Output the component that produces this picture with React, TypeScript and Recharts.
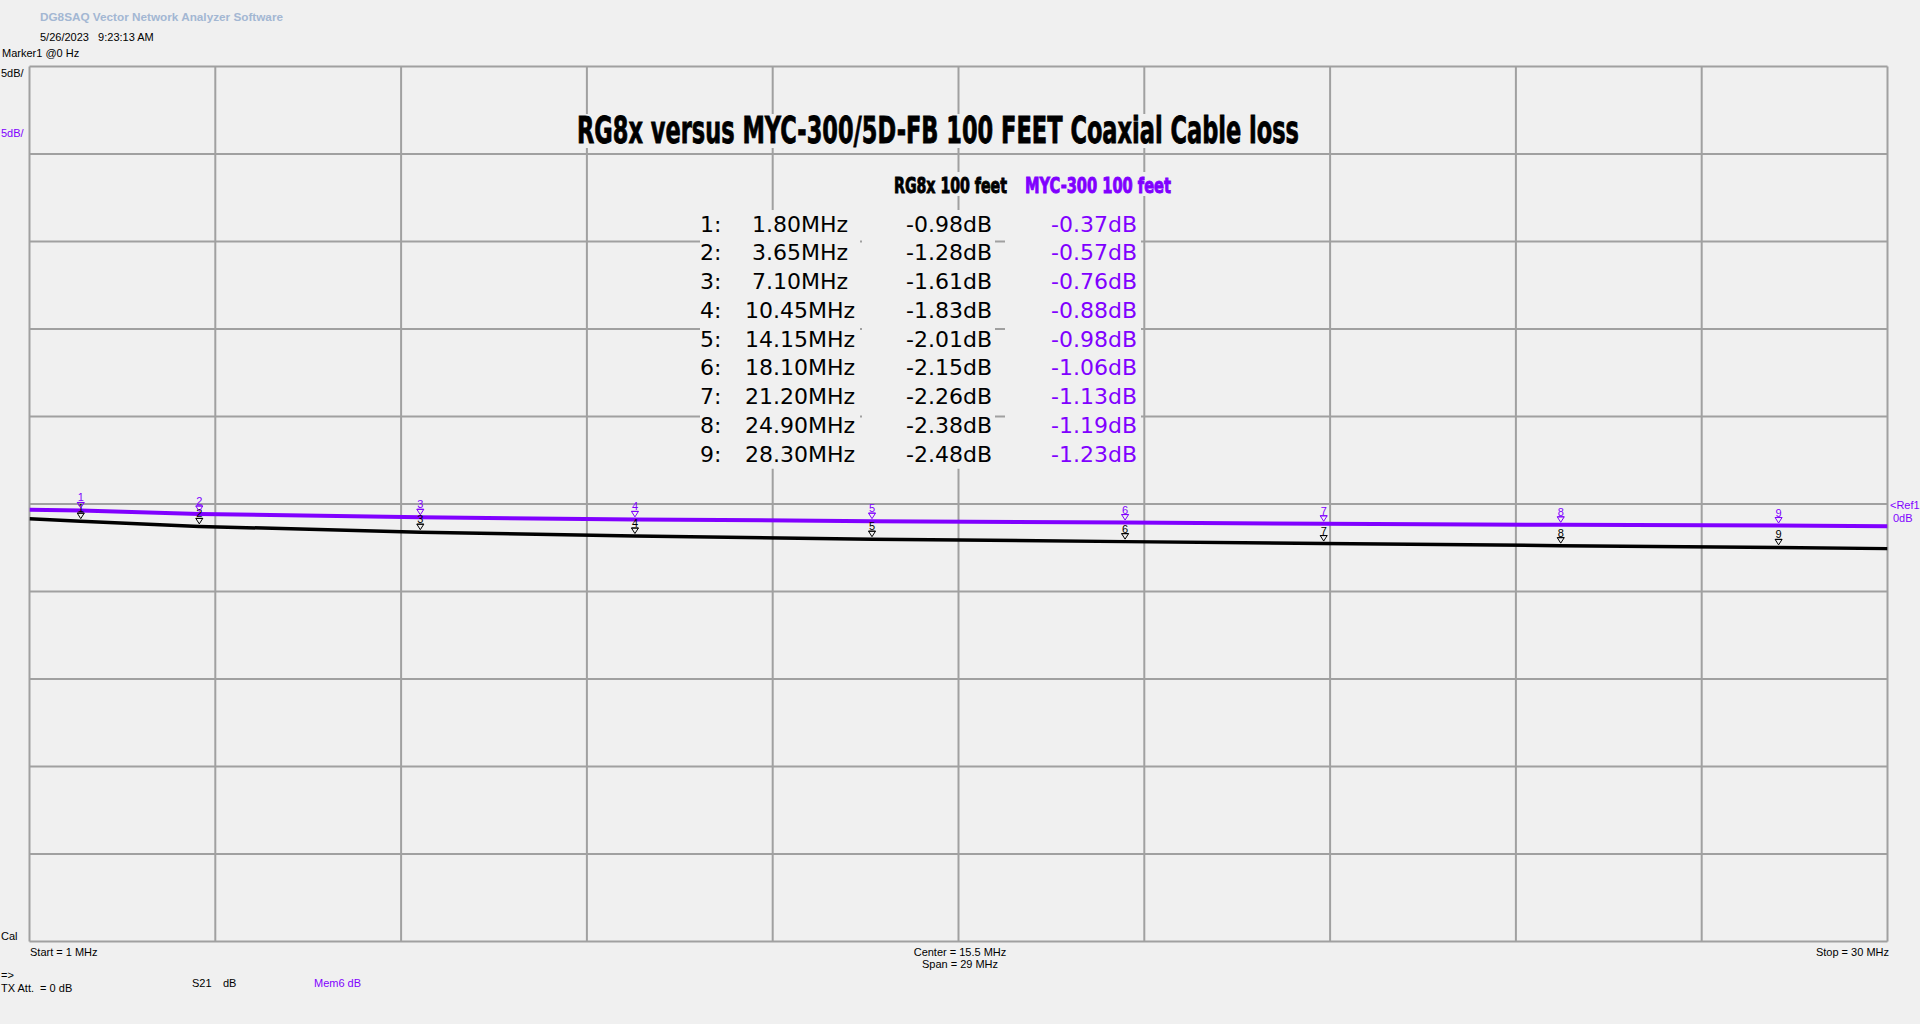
import React from 'react';
import { ComposedChart, Line, XAxis, YAxis, ReferenceLine } from 'recharts';

// ---- data ----
const FREQ_MHZ = [1, 1.8, 3.65, 7.1, 10.45, 14.15, 18.1, 21.2, 24.9, 28.3, 30];
const RG8X_DB = [-0.84, -0.98, -1.28, -1.61, -1.83, -2.01, -2.15, -2.26, -2.38, -2.48, -2.55];
const MYC_DB = [-0.33, -0.37, -0.57, -0.76, -0.88, -0.98, -1.06, -1.13, -1.19, -1.23, -1.27];
const MARKER_NO: (number | null)[] = [null, 1, 2, 3, 4, 5, 6, 7, 8, 9, null];

const FREQ_GRID = [1, 3.9, 6.8, 9.7, 12.6, 15.5, 18.4, 21.3, 24.2, 27.1, 30];
const DB_GRID = [-25, -20, -15, -10, -5, 0, 5, 10, 15, 20, 25];

const TITLE = 'RG8x versus MYC-300/5D-FB 100 FEET Coaxial Cable loss';
const SERIES_A = 'RG8x 100 feet';
const SERIES_B = 'MYC-300 100 feet';

const PURPLE = '#8000ff';
const GRID = '#a0a0a0';
const BG = '#f0f0f0';
const UI_FONT = "'Liberation Sans', Arial, sans-serif";
const TABLE_FONT = "'DejaVu Sans', Verdana, sans-serif";
const BOLD_FONT = "'DejaVu Sans Condensed', 'Liberation Sans Narrow', 'DejaVu Sans', sans-serif";

const data = FREQ_MHZ.map((f, i) => ({
  f,
  rg8x: RG8X_DB[i],
  myc: MYC_DB[i],
  marker: MARKER_NO[i],
}));

const markerRows = data.filter((d) => d.marker !== null);

const makeDot = (color: string) => (props: any) => {
  const { cx, cy, payload, index } = props;
  if (payload == null || payload.marker == null || cx == null || cy == null) {
    return <g key={`e-${color}-${index}`} />;
  }
  return (
    <g key={`m-${color}-${index}`}>
      <text x={cx} y={cy - 9} textAnchor="middle" fontFamily={UI_FONT} fontSize={11} fill={color}>
        {payload.marker}
      </text>
      <line x1={cx - 3.5} y1={cy - 8} x2={cx + 3.5} y2={cy - 8} stroke={color} strokeWidth={1} />
      <polygon
        points={`${cx - 3.5},${cy - 8} ${cx + 3.5},${cy - 8} ${cx},${cy - 2.5}`}
        fill="none"
        stroke={color}
        strokeWidth={1}
      />
    </g>
  );
};

const T = (p: { x: number; y: number; children: any; fill?: string; anchor?: string; size?: number; weight?: any; family?: string }) => (
  <text
    x={p.x}
    y={p.y}
    fill={p.fill || '#000'}
    textAnchor={(p.anchor as any) || 'start'}
    fontSize={p.size || 11}
    fontWeight={p.weight || 'normal'}
    fontFamily={p.family || UI_FONT}
    style={{ whiteSpace: 'pre' }}
  >
    {p.children}
  </text>
);

// condensed heavy text: squeezed horizontally to mimic an Impact-like face
const Heavy = (p: { x: number; y: number; size: number; sx: number; width: number; fill: string; sw: number; children: any }) => (
  <text
    transform={`translate(${p.x},${p.y}) scale(${p.sx},1)`}
    x={0}
    y={0}
    fontFamily={BOLD_FONT}
    fontWeight="bold"
    fontSize={p.size}
    fill={p.fill}
    stroke={p.fill}
    strokeWidth={p.sw}
    textLength={p.width / p.sx}
    lengthAdjust="spacingAndGlyphs"
  >
    {p.children}
  </text>
);

const Overlay = () => {
  const rowTop = 210;
  const rowH = 28.75;
  return (
    <svg
      width={1920}
      height={1024}
      style={{ position: 'absolute', left: 0, top: 0, pointerEvents: 'none' }}
    >
      {/* header texts */}
      <text x={40} y={21} fontFamily={UI_FONT} fontSize={11} fontWeight="bold" fill="#a3b7d3" textLength={243} lengthAdjust="spacingAndGlyphs">
        DG8SAQ Vector Network Analyzer Software
      </text>
      <T x={40} y={41}>{'5/26/2023   9:23:13 AM'}</T>
      <T x={2} y={57}>Marker1 @0 Hz</T>
      <T x={1} y={77}>5dB/</T>
      <T x={1} y={137} fill={PURPLE}>5dB/</T>
      <T x={1} y={940}>Cal</T>
      <T x={30} y={956}>Start = 1 MHz</T>
      <T x={960} y={956} anchor="middle">Center = 15.5 MHz</T>
      <T x={960} y={968} anchor="middle">Span = 29 MHz</T>
      <T x={1889} y={956} anchor="end">Stop = 30 MHz</T>
      <T x={1} y={979}>{'=>'}</T>
      <T x={1} y={992}>{'TX Att.  = 0 dB'}</T>
      <T x={192} y={987}>S21</T>
      <T x={223} y={987}>dB</T>
      <T x={314} y={987} fill={PURPLE}>Mem6 dB</T>
      <T x={1890} y={509} fill={PURPLE}>{'<Ref1'}</T>
      <T x={1893} y={522} fill={PURPLE}>0dB</T>

      {/* title and series headers, on background boxes */}
      <rect x={575} y={114} width={726} height={34} fill={BG} />
      <Heavy x={577} y={143} size={38} sx={0.62} width={722} fill="#000" sw={0.8}>{TITLE}</Heavy>
      <rect x={892} y={172} width={118} height={24} fill={BG} />
      <Heavy x={894} y={193} size={22} sx={0.68} width={113} fill="#000" sw={0.9}>{SERIES_A}</Heavy>
      <rect x={1022} y={172} width={150} height={24} fill={BG} />
      <Heavy x={1025} y={193} size={22} sx={0.68} width={146} fill={PURPLE} sw={0.9}>{SERIES_B}</Heavy>

      {/* marker table */}
      <rect x={700} y={rowTop} width={160} height={rowH * 9} fill={BG} />
      <rect x={862} y={rowTop} width={133} height={rowH * 9} fill={BG} />
      <rect x={1005} y={rowTop} width={136} height={rowH * 9} fill={BG} />
      {markerRows.map((r, i) => {
        const y = 231.5 + i * rowH;
        return (
          <g key={`row-${i}`}>
            <T x={700} y={y} size={22} family={TABLE_FONT}>{`${r.marker}:`}</T>
            <T x={800} y={y} size={22} family={TABLE_FONT} anchor="middle">{`${r.f.toFixed(2)}MHz`}</T>
            <T x={992} y={y} size={22} family={TABLE_FONT} anchor="end">{`${r.rg8x.toFixed(2)}dB`}</T>
            <T x={1137} y={y} size={22} family={TABLE_FONT} anchor="end" fill={PURPLE}>{`${r.myc.toFixed(2)}dB`}</T>
          </g>
        );
      })}
    </svg>
  );
};

export default function App() {
  return (
    <div style={{ position: 'absolute', left: 0, top: 0, width: 1920, height: 1024, background: BG }}>
      <div style={{ position: 'absolute', left: 0, top: 0 }}>
        <ComposedChart
          width={1920}
          height={1024}
          data={data}
          margin={{ top: 66.5, right: 32.5, bottom: 82.5, left: 29.5 }}
        >
          <XAxis
            dataKey="f"
            type="number"
            domain={[1, 30]}
            ticks={FREQ_GRID}
            height={0}
            tick={false}
            tickLine={false}
            axisLine={false}
            allowDataOverflow
          />
          <YAxis
            type="number"
            domain={[-25, 25]}
            ticks={DB_GRID}
            width={0}
            tick={false}
            tickLine={false}
            axisLine={false}
            allowDataOverflow
          />
          {FREQ_GRID.map((v) => (
            <ReferenceLine key={`vx-${v}`} x={v} stroke={GRID} strokeWidth={2} ifOverflow="visible" />
          ))}
          {DB_GRID.map((v) => (
            <ReferenceLine key={`hy-${v}`} y={v} stroke={GRID} strokeWidth={2} ifOverflow="visible" />
          ))}
          <Line
            dataKey="rg8x"
            type="linear"
            stroke="#000"
            strokeWidth={3.5}
            dot={makeDot('#000')}
            activeDot={false}
            isAnimationActive={false}
          />
          <Line
            dataKey="myc"
            type="linear"
            stroke={PURPLE}
            strokeWidth={4}
            dot={makeDot(PURPLE)}
            activeDot={false}
            isAnimationActive={false}
          />
        </ComposedChart>
      </div>
      <Overlay />
    </div>
  );
}
